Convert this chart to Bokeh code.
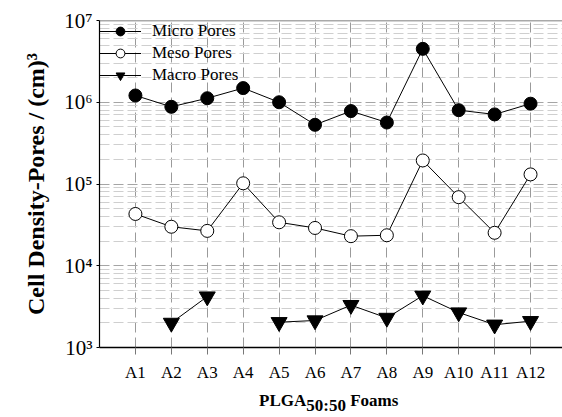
import numpy as np
from bokeh.plotting import figure
from bokeh.layouts import column
from bokeh.models import FixedTicker, CustomJSTickFormatter, Span, Div
from bokeh.embed import file_html
from bokeh.resources import INLINE

categories = ["A1", "A2", "A3", "A4", "A5", "A6", "A7", "A8", "A9", "A10", "A11", "A12"]
micro = [1.21e6, 8.8e5, 1.12e6, 1.49e6, 1.0e6, 5.3e5, 7.8e5, 5.65e5, 4.5e6, 8.0e5, 7.1e5, 9.6e5]
meso = [4.3e4, 3.0e4, 2.67e4, 1.02e5, 3.4e4, 2.9e4, 2.3e4, 2.36e4, 1.94e5, 6.9e4, 2.53e4, 1.31e5]
macro = [np.nan, 2.0e3, 4.2e3, np.nan, 2.04e3, 2.14e3, 3.3e3, 2.3e3, 4.3e3, 2.68e3, 1.9e3, 2.1e3]
y_label = "Cell Density-Pores / (cm)³"
x_label_parts = ["PLGA", "50:50", "Foams"]
legend_labels = ["Micro Pores", "Meso Pores", "Macro Pores"]

xs = np.arange(1, len(categories) + 1)
SERIF = "Liberation Serif"

p = figure(width=562, height=391, y_axis_type="log",
           x_range=(0, 12.89), y_range=(1e3, 1e7),
           output_backend="svg", toolbar_location=None,
           min_border_left=99, min_border_top=20, min_border_bottom=44, min_border_right=0)
p.outline_line_color = None
p.background_fill_color = "white"

# grids
p.xgrid.grid_line_color = "#9a9a9a"
p.xgrid.grid_line_dash = "10 5"
p.ygrid.grid_line_color = "#a5a5a5"
p.ygrid.grid_line_dash = "10 4"
p.ygrid.minor_grid_line_color = "#cfcfcf"
p.ygrid.minor_grid_line_dash = "10 4"

# x axis
p.xaxis.ticker = FixedTicker(ticks=list(xs))
p.xaxis.formatter = CustomJSTickFormatter(args=dict(cats=categories),
                                          code="const i = Math.round(tick) - 1; return (i >= 0 && i < cats.length) ? cats[i] : '';")
p.xaxis.major_label_text_font = SERIF
p.xaxis.major_label_text_font_size = "17px"
p.xaxis.major_label_text_color = "black"
p.xaxis.major_tick_out = 7
p.xaxis.major_tick_in = 0
p.xaxis.major_tick_line_color = "#777777"
p.xaxis.minor_tick_line_color = None
p.xaxis.axis_line_color = "black"
p.xaxis.axis_line_width = 1.5
p.xaxis.major_label_standoff = 8

# y axis
decades = list(range(3, 8))
p.yaxis.ticker = FixedTicker(ticks=[10.0 ** d for d in decades],
                             minor_ticks=[m * 10.0 ** d for d in decades[:-1] for m in range(2, 10)])
p.yaxis.formatter = CustomJSTickFormatter(code="""
const sup = {'0':'\u2070','1':'\u00b9','2':'\u00b2','3':'\u00b3','4':'\u2074','5':'\u2075','6':'\u2076','7':'\u2077','8':'\u2078','9':'\u2079','-':'\u207b'};
const e = Math.round(Math.log10(tick));
return '10' + String(e).split('').map(c => sup[c]).join('');
""")
p.yaxis.major_label_text_font = SERIF
p.yaxis.major_label_text_font_size = "21px"
p.yaxis.major_label_text_color = "black"
p.yaxis.major_tick_out = 3
p.yaxis.major_tick_in = 0
p.yaxis.major_tick_line_color = "black"
p.yaxis.minor_tick_line_color = None
p.yaxis.axis_line_color = "black"
p.yaxis.axis_line_width = 1.2
p.yaxis.major_label_standoff = 3
p.yaxis.axis_label = y_label
p.yaxis.axis_label_text_font = SERIF
p.yaxis.axis_label_text_font_style = "bold"
p.yaxis.axis_label_text_font_size = "24px"
p.yaxis.axis_label_text_color = "black"
p.yaxis.axis_label_standoff = 12

p.add_layout(Span(location=1e7, dimension="width", line_color="#555555", line_width=1.5))

# series
p.line(xs, micro, line_color="black", line_width=1, legend_label=legend_labels[0])
p.scatter(xs, micro, marker="circle", size=13, fill_color="black", line_color="black",
          legend_label=legend_labels[0])
p.line(xs, meso, line_color="black", line_width=1, legend_label=legend_labels[1])
p.scatter(xs, meso, marker="circle", size=13, fill_color="white", line_color="black",
          legend_label=legend_labels[1])
p.line(xs, np.array(macro), line_color="black", line_width=1, legend_label=legend_labels[2])
p.scatter(xs, np.array(macro), marker="inverted_triangle", size=16, fill_color="black",
          line_color="black", legend_label=legend_labels[2])

lg = p.legend[0]
lg.location = "top_left"
lg.margin = 0
lg.padding = 1
lg.spacing = 0
lg.glyph_width = 42
lg.glyph_height = 22
lg.label_height = 22
lg.label_standoff = 11
lg.label_text_font = SERIF
lg.label_text_font_size = "17px"
lg.label_text_color = "black"
lg.background_fill_alpha = 0
lg.border_line_color = None
lg.inactive_fill_alpha = 0

# x-axis title with a real subscript, as HTML text under the plot
xtitle_html = (
    "<div style=\"width:562px;height:26px;box-sizing:border-box;padding-left:259px;padding-top:1px;"
    "font-family:'Liberation Serif',serif;font-weight:bold;font-size:17px;line-height:17px;"
    "color:black;white-space:nowrap;\">"
    f"{x_label_parts[0]}<sub style=\"font-size:17px;vertical-align:-5px;line-height:0;\">{x_label_parts[1]}</sub>"
    f"&nbsp;{x_label_parts[2]}</div>"
)
xtitle = Div(text=xtitle_html, width=562, height=26, margin=0)

layout = column(p, xtitle, spacing=0)

with open("out.html", "w", encoding="utf-8") as f:
    f.write(file_html(layout, INLINE))
